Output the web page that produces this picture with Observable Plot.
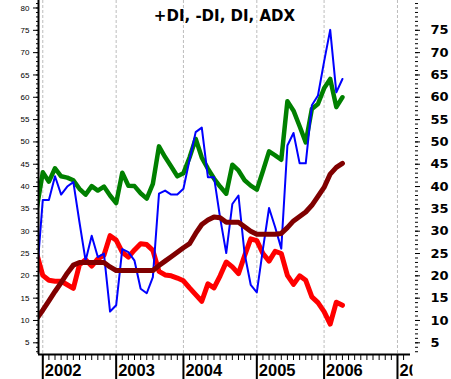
<!DOCTYPE html>
<html><head><meta charset="utf-8">
<script src="https://cdn.jsdelivr.net/npm/d3@7"></script>
<script src="https://cdn.jsdelivr.net/npm/@observablehq/plot@0.6"></script>
<style>body{margin:0;background:#fff} svg{display:block}</style>
</head><body><div id="chart"></div>
<script>
const title = "+DI, -DI, DI, ADX";
// monthly period index: 0 = first period of 2002
const periods = d3.range(-1, 50);
const plusDI = [35,43.2,41.1,44.1,42.3,42,41.4,39.5,38.2,40.1,39.1,40,38,36.3,43.1,40.2,40.1,38.5,37.3,40.6,49,46.6,44.5,42.3,43,46.5,50.7,46.5,44,41.8,40,38.4,44.9,43.6,41.4,40.2,39.3,43.5,47.9,47,46,59.1,57,53.5,49.9,57.4,58.5,62,64.1,57.8,60];
const minusDI = [25,20.1,19,18.8,18.8,18,17.2,22.5,23.6,22.2,23.8,24.6,29,28,25.3,24.2,25.8,27.2,27,25.7,21,20.2,20,19.5,18.9,17.3,15.8,14.3,18.2,17.3,20,23.1,22,20.5,24.5,28.3,27.9,25,23.3,25.5,25,20.1,18.1,20,19,15.3,14,12,9.2,14.1,13.4];
const DI = [19.5,37,37,42.3,38.2,40,41,32,23.4,29,24.2,25,12,13.4,26,25.3,23.4,17.1,16.1,19.7,38.4,39.1,38.2,38.2,39.5,46,52.2,53.2,42.1,42.1,33,25.1,36.1,38,25,18,16.3,26,35.2,30.9,26.1,49.2,52,45.2,45.2,58.2,60.4,68,75.1,61.1,64.1];
const ADX = [10.4,12.3,14.4,16.5,18.5,20.6,22.4,23,23,23,23,23,22,21.2,21.2,21.2,21.2,21.2,21.2,21.2,22.3,23.3,24.3,25.3,26.3,27.2,29.5,31.5,32.5,33.2,33,32,32,32,31,30,29.3,29.3,29.3,29.3,29.5,30.8,32.3,33.3,34.3,35.8,37.8,39.8,42.8,44.3,45.2];
const yearLabels = ["2002","2003","2004","2005","2006","2007"];
const yearStarts = [0, 12, 23, 35, 46, 58];
const leftTickLabels = d3.range(5, 85, 5);
const rightTickLabels = d3.range(5, 80, 5);
const minorYTicks = d3.range(3, 82);
const minorXTicks = d3.range(0, 60);

const xDomain = [-0.7, 60.13];
const yDomain = [2.38, 81.68];

const data = periods.map((p, i) => ({p, plus: plusDI[i], minus: minusDI[i], di: DI[i], adx: ADX[i]}));

const chart = Plot.plot({
  width: 451, height: 379,
  marginLeft: 38, marginRight: 41, marginTop: 0, marginBottom: 25,
  x: {domain: xDomain, axis: null},
  y: {domain: yDomain, axis: null},
  style: {background: "#fff", fontFamily: "Liberation Sans, Arial, sans-serif", color: "#000"},
  marks: [
    Plot.ruleX(yearStarts, {stroke: "#bdbdbd", strokeDasharray: "3,2", strokeWidth: 1}),
    Plot.lineY(data, {x: "p", y: "plus", stroke: "#008000", strokeWidth: 4.5, clip: true}),
    Plot.lineY(data, {x: "p", y: "minus", stroke: "#ff0000", strokeWidth: 5, clip: true}),
    Plot.lineY(data, {x: "p", y: "di", stroke: "#0000ff", strokeWidth: 2, clip: true}),
    Plot.lineY(data, {x: "p", y: "adx", stroke: "#800000", strokeWidth: 5, clip: true}),
    // left axis
    Plot.axisY(minorYTicks, {anchor: "left", tickSize: 2, tickFormat: () => "", label: null}),
    Plot.axisY(leftTickLabels, {anchor: "left", tickSize: 5, tickPadding: 4, fontSize: 8, label: null}),
    Plot.ruleX([xDomain[0]], {strokeWidth: 2}),
    Plot.ruleY([yDomain[0]], {strokeWidth: 2}),
    // right axis
    Plot.axisY(minorYTicks, {anchor: "right", tickSize: 3, dx: 4, tickFormat: () => "", label: null}),
    Plot.axisY(rightTickLabels, {anchor: "right", tickSize: 5, dx: 4, tickPadding: 11, fontSize: 13, fontWeight: "bold", fontFamily: "DejaVu Sans", label: null}),
    // bottom axis
    Plot.axisX(minorXTicks, {anchor: "bottom", tickSize: 6, tickFormat: () => "", label: null}),
    Plot.axisX(yearStarts, {anchor: "bottom", tickSize: 25, strokeWidth: 2, tickFormat: () => "", label: null}),
    Plot.text(yearLabels, {x: (d, i) => yearStarts[i], text: d => d, frameAnchor: "bottom", dy: 21, dx: 2, textAnchor: "start", lineAnchor: "bottom", fontSize: 16.5, fontWeight: "bold"}),
    Plot.text([title], {text: d => d, frameAnchor: "top", dy: 20, lineAnchor: "bottom", fontSize: 15, fontWeight: "bold", fontFamily: "DejaVu Sans"})
  ]
});
document.getElementById("chart").append(chart);
// clip year labels just past the right edge of the plotting frame (in the mark group's coordinates)
const xs = chart.scale("x");
const svg = d3.select(chart.tagName.toLowerCase() === "svg" ? chart : chart.querySelector("svg"));
svg.append("defs").append("clipPath").attr("id", "yearclip").attr("clipPathUnits", "userSpaceOnUse")
  .append("rect").attr("x", -20).attr("y", -400).attr("width", xs.range[1] + 20).attr("height", 1000);
const yearText = svg.selectAll("text").filter(function() { return yearLabels.includes(this.textContent); });
const groups = new Set(yearText.nodes().map(n => n.parentNode));
groups.forEach(g => g.setAttribute("clip-path", "url(#yearclip)"));
</script>
</body></html>
